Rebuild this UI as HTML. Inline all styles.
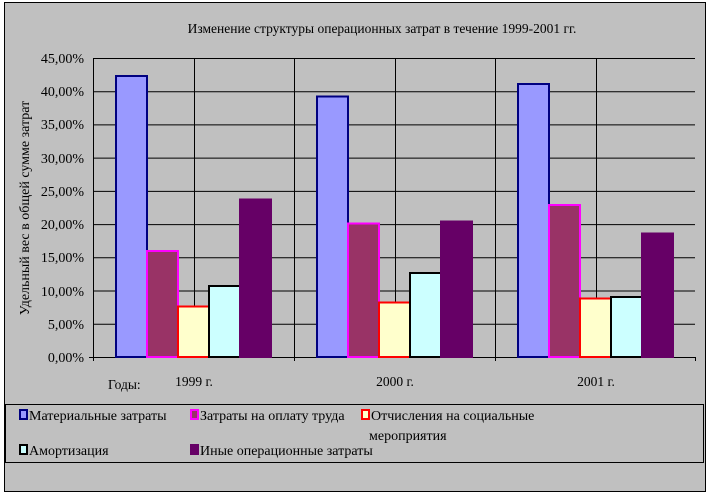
<!DOCTYPE html>
<html><head><meta charset="utf-8"><style>
body{margin:0;background:#fff}
svg,text{font-family:"Liberation Serif","DejaVu Serif","Times New Roman",serif}
</style></head><body>
<svg width="710" height="497" xmlns="http://www.w3.org/2000/svg">
<rect x="4.5" y="2.5" width="701" height="489" fill="#c0c0c0" stroke="#000"/>
<text x="382" y="33" font-size="13.5" text-anchor="middle">Изменение структуры операционных затрат в течение 1999-2001 гг.</text>
<g stroke="#000" stroke-width="1">
<line x1="93" y1="58.5" x2="695" y2="58.5"/>
<line x1="93" y1="91.7" x2="695" y2="91.7"/>
<line x1="93" y1="124.9" x2="695" y2="124.9"/>
<line x1="93" y1="158.1" x2="695" y2="158.1"/>
<line x1="93" y1="191.4" x2="695" y2="191.4"/>
<line x1="93" y1="224.6" x2="695" y2="224.6"/>
<line x1="93" y1="257.8" x2="695" y2="257.8"/>
<line x1="93" y1="291.0" x2="695" y2="291.0"/>
<line x1="93" y1="324.2" x2="695" y2="324.2"/>
<line x1="194.5" y1="58" x2="194.5" y2="357"/>
<line x1="294.5" y1="58" x2="294.5" y2="357"/>
<line x1="395.5" y1="58" x2="395.5" y2="357"/>
<line x1="495.5" y1="58" x2="495.5" y2="357"/>
<line x1="596.5" y1="58" x2="596.5" y2="357"/>
<line x1="93.5" y1="58" x2="93.5" y2="361"/>
<line x1="89" y1="357.5" x2="695" y2="357.5"/>
<line x1="294.5" y1="357" x2="294.5" y2="361"/>
<line x1="495.5" y1="357" x2="495.5" y2="361"/>
<line x1="695.5" y1="357" x2="695.5" y2="361"/>
</g>
<g stroke-width="2">
<rect x="116" y="76" width="31" height="281" fill="#9999ff" stroke="#000080"/>
<rect x="147" y="251" width="31" height="106" fill="#993366" stroke="#ff00ff"/>
<rect x="178" y="306.5" width="31" height="50.5" fill="#ffffcc" stroke="#ff0000"/>
<rect x="209" y="286" width="31" height="71" fill="#ccffff" stroke="#000"/>
<rect x="240" y="199.5" width="31" height="157.5" fill="#660066" stroke="#660066"/>
<rect x="317" y="96.5" width="31" height="260.5" fill="#9999ff" stroke="#000080"/>
<rect x="348" y="223.5" width="31" height="133.5" fill="#993366" stroke="#ff00ff"/>
<rect x="379" y="302.5" width="31" height="54.5" fill="#ffffcc" stroke="#ff0000"/>
<rect x="410" y="273" width="31" height="84" fill="#ccffff" stroke="#000"/>
<rect x="441" y="221.5" width="31" height="135.5" fill="#660066" stroke="#660066"/>
<rect x="518" y="84" width="31" height="273" fill="#9999ff" stroke="#000080"/>
<rect x="549" y="205" width="31" height="152" fill="#993366" stroke="#ff00ff"/>
<rect x="580" y="298.5" width="31" height="58.5" fill="#ffffcc" stroke="#ff0000"/>
<rect x="611" y="297" width="31" height="60" fill="#ccffff" stroke="#000"/>
<rect x="642" y="233.5" width="31" height="123.5" fill="#660066" stroke="#660066"/>
</g>
<g font-size="14" text-anchor="end">
<text x="84" y="63">45,00%</text><text x="84" y="96">40,00%</text><text x="84" y="129">35,00%</text>
<text x="84" y="163">30,00%</text><text x="84" y="196">25,00%</text><text x="84" y="229">20,00%</text>
<text x="84" y="262">15,00%</text><text x="84" y="296">10,00%</text><text x="84" y="329">5,00%</text>
<text x="84" y="362">0,00%</text>
</g>
<text transform="translate(29,208) rotate(-90)" font-size="14" text-anchor="middle">Удельный вес в общей сумме затрат</text>
<g font-size="13.5">
<text x="108" y="389">Годы:</text>
<text x="194" y="386" text-anchor="middle">1999 г.</text>
<text x="395" y="386" text-anchor="middle">2000 г.</text>
<text x="596" y="386" text-anchor="middle">2001 г.</text>
</g>
<rect x="5.5" y="404.5" width="698" height="58" fill="none" stroke="#000"/>
<g stroke-width="2">
<rect x="20" y="410" width="7" height="9" fill="#9999ff" stroke="#000080"/>
<rect x="191" y="410" width="7" height="9" fill="#993366" stroke="#ff00ff"/>
<rect x="362" y="410" width="7" height="9" fill="#ffffcc" stroke="#ff0000"/>
<rect x="20" y="445" width="7" height="9" fill="#ccffff" stroke="#000"/>
<rect x="191" y="445" width="7" height="9" fill="#660066" stroke="#660066"/>
</g>
<g font-size="14">
<text x="29" y="420">Материальные затраты</text>
<text x="200" y="420">Затраты на оплату труда</text>
<text x="371" y="420">Отчисления на социальные</text>
<text x="369" y="440">мероприятия</text>
<text x="29" y="455">Амортизация</text>
<text x="200" y="455">Иные операционные затраты</text>
</g>
</svg>
</body></html>
